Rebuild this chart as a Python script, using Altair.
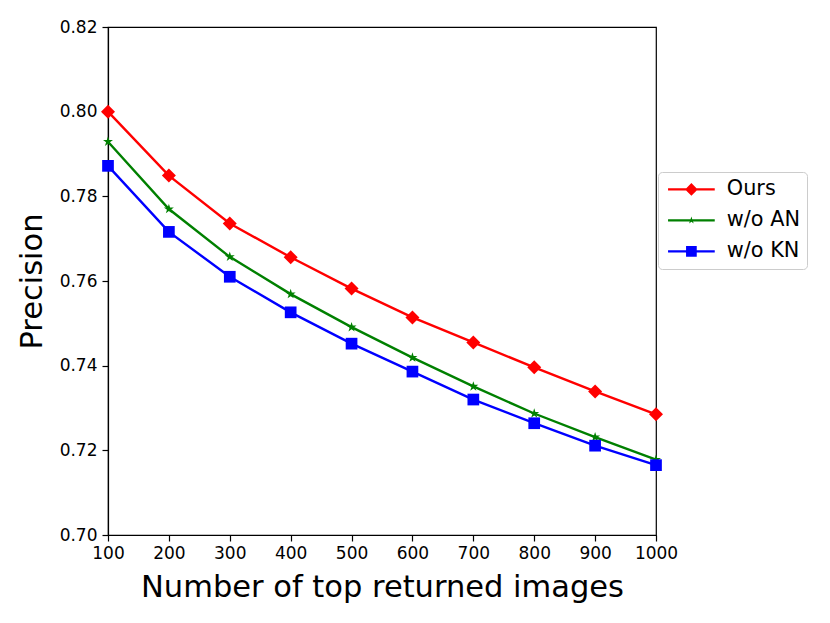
import math
import altair as alt
import pandas as pd

# ---- data ----
x_values = [100, 200, 300, 400, 500, 600, 700, 800, 900, 1000]
series_names = ["Ours", "w/o AN", "w/o KN"]
ours = [0.8000, 0.7849, 0.7736, 0.7656, 0.7582, 0.7514, 0.7455, 0.7396, 0.7339, 0.7285]
wo_an = [0.7929, 0.7770, 0.7657, 0.7569, 0.7491, 0.7419, 0.7351, 0.7287, 0.7231, 0.7178]
wo_kn = [0.7872, 0.7716, 0.7610, 0.7526, 0.7452, 0.7386, 0.7320, 0.7264, 0.7211, 0.7165]
colors = ["#ff0000", "#008000", "#0000ff"]
y_ticks = [0.70, 0.72, 0.74, 0.76, 0.78, 0.80, 0.82]

rows = []
for name, vals in zip(series_names, [ours, wo_an, wo_kn]):
    for xv, yv in zip(x_values, vals):
        rows.append({"n": xv, "precision": yv, "series": name})
df = pd.DataFrame(rows)


# ---- marker shapes (unit-square SVG paths) ----
def star(R, ratio=0.381966):
    pts = []
    for k in range(10):
        ang = math.radians(-90 + 36 * k)
        r = R if k % 2 == 0 else R * ratio
        pts.append(f"{r * math.cos(ang):.3f},{r * math.sin(ang):.3f}")
    return "M" + "L".join(pts) + "Z"


def diamond(d):
    return f"M0,{-d}L{d},0L0,{d}L{-d},0Z"


def square(s):
    return f"M{-s},{-s}L{s},{-s}L{s},{s}L{-s},{s}Z"


point_shapes = [diamond(1.0), star(0.75), square(0.836)]
bar = "M-3.336,-0.17L3.336,-0.17L3.336,0.17L-3.336,0.17Z"
legend_shapes = [bar + diamond(0.9), bar + star(0.55), bar + square(0.764)]

FONT = "DejaVu Sans"

x_enc = alt.X(
    "n:Q",
    scale=alt.Scale(domain=[100, 1000], nice=False, zero=False),
    axis=alt.Axis(
        values=x_values, format="d", title="Number of top returned images",
        grid=False, tickSize=6, labelPadding=4, titlePadding=11,
        labelFlush=False, labelOverlap=False,
        labelFontSize=17, titleFontSize=30.5, titleFontWeight="normal",
        labelColor="black", titleColor="black", tickColor="black",
        domainColor="black", labelFont=FONT, titleFont=FONT,
    ),
)
y_enc = alt.Y(
    "precision:Q",
    scale=alt.Scale(domain=[0.70, 0.82], nice=False, zero=False),
    axis=alt.Axis(
        values=y_ticks, format=".2f", title="Precision",
        grid=False, tickSize=6, labelPadding=5, titlePadding=12,
        labelFlush=False, labelOverlap=False,
        labelFontSize=17, titleFontSize=30.5, titleFontWeight="normal",
        labelColor="black", titleColor="black", tickColor="black",
        domainColor="black", labelFont=FONT, titleFont=FONT,
    ),
)

lines = alt.Chart(df).mark_line(strokeWidth=2.4).encode(
    x=x_enc, y=y_enc,
    stroke=alt.Stroke("series:N", scale=alt.Scale(domain=series_names, range=colors), legend=None),
)

points = alt.Chart(df).mark_point(filled=True, opacity=1, size=196, strokeWidth=0).encode(
    x=x_enc, y=y_enc,
    fill=alt.Fill("series:N", scale=alt.Scale(domain=series_names, range=colors), legend=None),
    shape=alt.Shape("series:N", scale=alt.Scale(domain=series_names, range=point_shapes), legend=None),
)

legend_layer = alt.Chart(df).transform_filter("false").mark_point(
    filled=True, opacity=1, size=196, strokeWidth=0
).encode(
    x=x_enc, y=y_enc,
    color=alt.Color(
        "series:N", scale=alt.Scale(domain=series_names, range=colors),
        legend=alt.Legend(title=None),
    ),
    shape=alt.Shape(
        "series:N", scale=alt.Scale(domain=series_names, range=legend_shapes),
        legend=alt.Legend(title=None),
    ),
)

chart = (
    alt.layer(lines, points, legend_layer)
    .resolve_scale(shape="independent", color="independent")
    .resolve_legend(shape="independent", color="independent")
    .properties(
        width=548, height=508,
        autosize=alt.AutoSizeParams(type="none"),
        padding={"left": 100, "top": 19, "right": 166, "bottom": 80},
    )
    .configure_view(stroke="black", strokeWidth=1.2)
    .configure_axis(domainWidth=1.2, tickWidth=1.2)
    .configure_legend(
        orient="none", legendX=550, legendY=145,
        padding=7, strokeColor="#cccccc", fillColor="white", cornerRadius=4,
        symbolSize=196, symbolStrokeWidth=0, symbolOffset=16, labelOffset=25,
        labelFontSize=20.8, labelFont=FONT, labelColor="black",
        rowPadding=9,
    )
)

chart.save("out.html", embed_options={"renderer": "svg", "actions": False})
